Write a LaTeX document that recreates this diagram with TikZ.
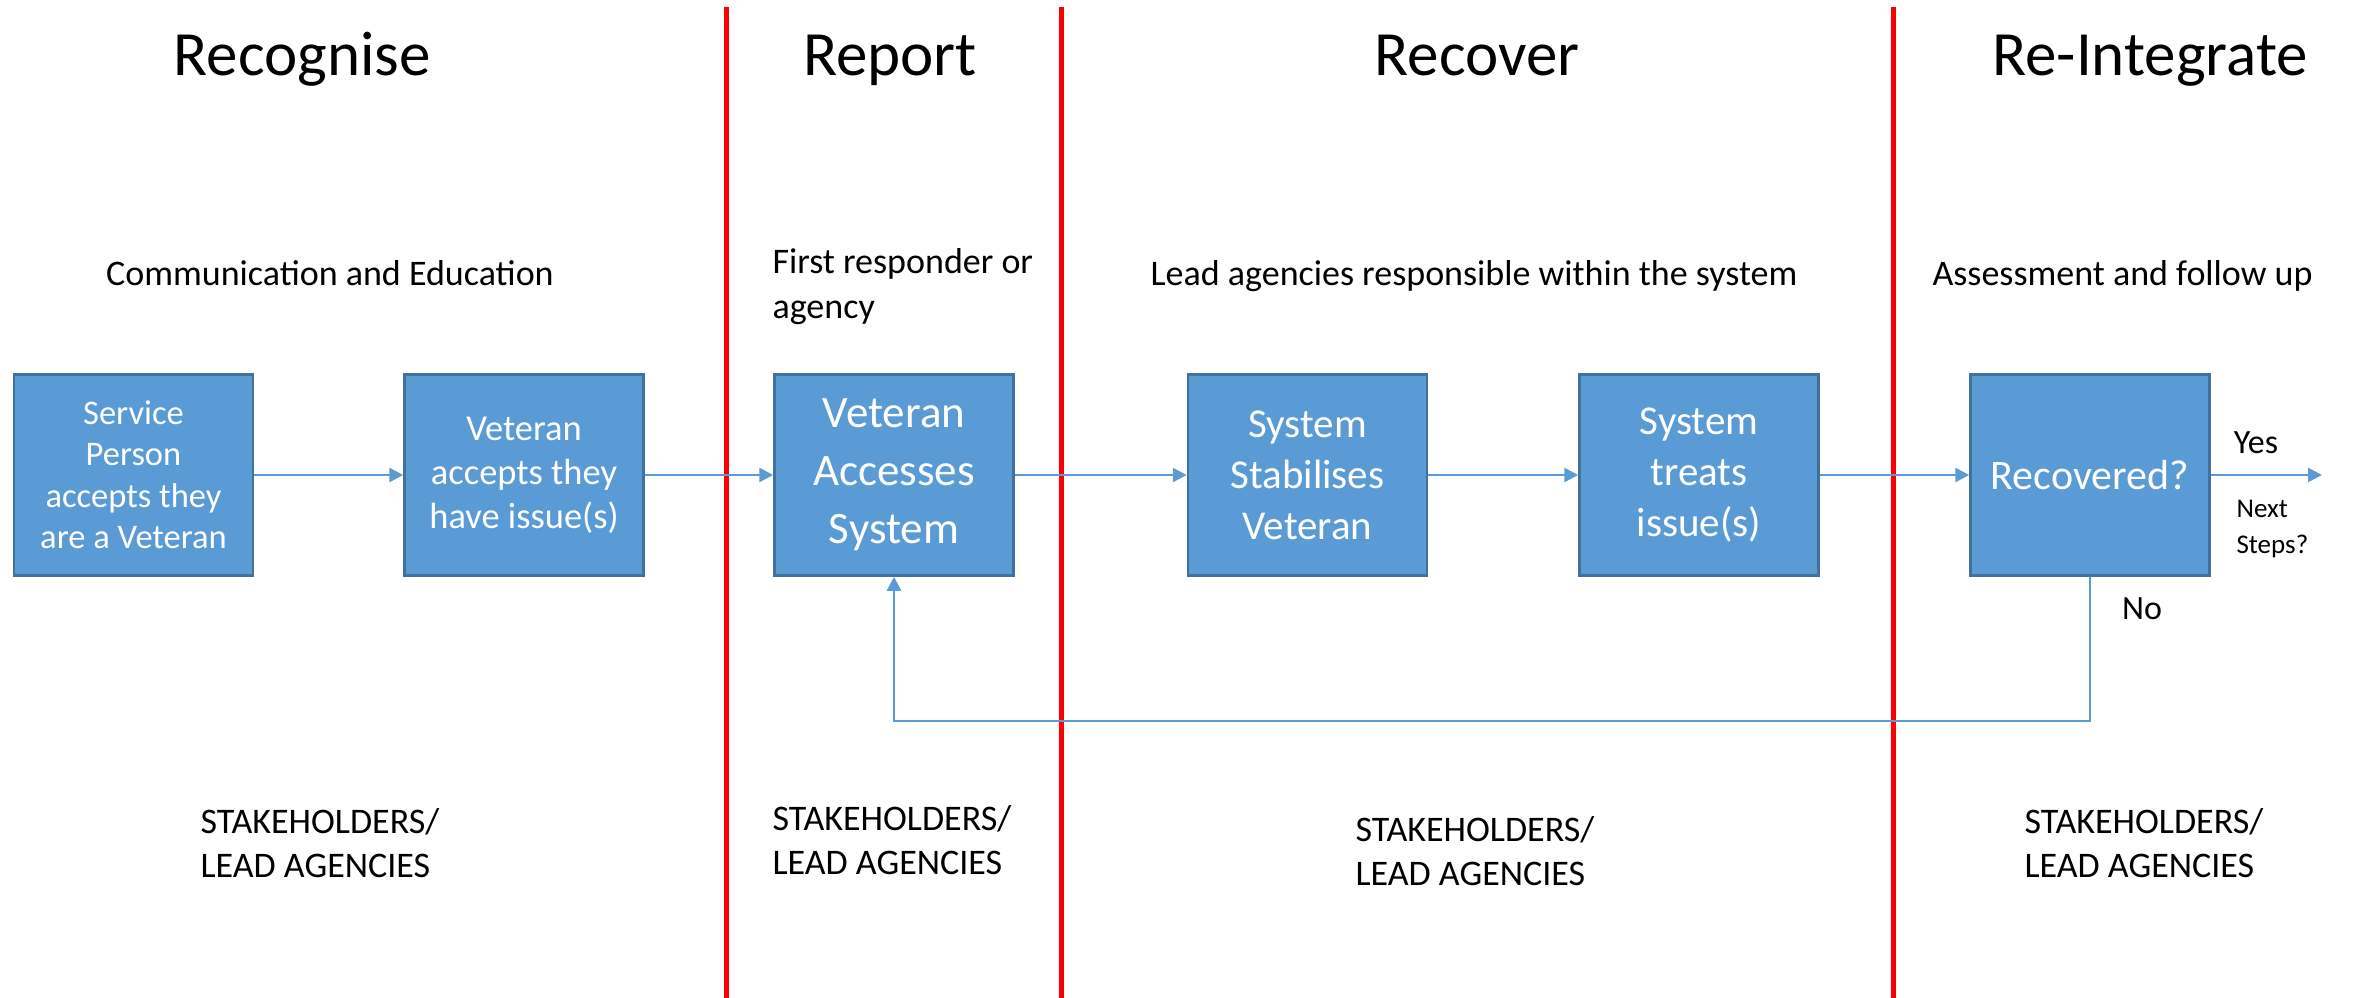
\documentclass[tikz,border=0pt]{standalone}
\usepackage{fontspec}
\setmainfont{Carlito}
\usetikzlibrary{arrows.meta}
\definecolor{boxfill}{HTML}{5B9BD5}
\definecolor{boxedge}{HTML}{41719C}
\definecolor{linkc}{HTML}{5B9BD5}
\begin{document}
\begin{tikzpicture}[x=1pt,y=-1pt,
  stepbox/.style={draw=boxedge, line width=2.5pt, fill=boxfill, minimum width=239pt, minimum height=201pt, inner sep=0pt, text=white, align=center},
  link/.style={draw=linkc, line width=2.5pt, -{Triangle[length=14pt,width=14pt]}},
  phase/.style={anchor=base, font=\fontsize{63}{76}\selectfont},
  sub/.style={font=\fontsize{36}{45}\selectfont},
  holders/.style={anchor=base west, align=left, font=\fontsize{36}{44}\selectfont},
  divider/.style={draw=red, line width=5pt}]
\useasboundingbox (0,0) rectangle (2356,998);

% dividers
\draw[divider] (726,7) -- (726,998);
\draw[divider] (1061,7) -- (1061,998);
\draw[divider] (1893,7) -- (1893,998);

% phase titles
\node[phase] (t1) at (302,76) {Recognise};
\node[phase] (t2) at (890,76) {Report};
\node[phase] (t3) at (1477,76) {Recover};
\node[phase] (t4) at (2150,76) {Re-Integrate};

% subtitles (base of multi-line nodes = last line)
\node[sub, anchor=base] (s1) at (330,285) {Communication and Education};
\node[sub, anchor=base west, align=left] (s2) at (769,318) {First responder or\\agency};
\node[sub, anchor=base] (s3) at (1474,285) {Lead agencies responsible within the system};
\node[sub, anchor=base west] (s4) at (1929,285) {Assessment and follow up};

% boxes
\node[stepbox, font=\fontsize{34.5}{41.5}\selectfont] (b1) at (133.5,475) {Service\\Person\\accepts they\\are a Veteran};
\node[stepbox, font=\fontsize{36.5}{44}\selectfont] (b2) at (524,475) {Veteran\\accepts they\\have issue(s)};
\node[stepbox, font=\fontsize{45}{58}\selectfont] (b3) at (894,475) {Veteran\\Accesses\\System};
\node[stepbox, font=\fontsize{41}{51}\selectfont] (b4) at (1307.5,475) {System\\Stabilises\\Veteran};
\node[stepbox, font=\fontsize{41}{51}\selectfont] (b5) at (1699,475) {System\\treats\\issue(s)};
\node[stepbox, font=\fontsize{42}{50}\selectfont] (b6) at (2090,475) {Recovered?};

% connectors
\draw[link] (b1.east) -- (b2.west);
\draw[link] (b2.east) -- (b3.west);
\draw[link] (b3.east) -- (b4.west);
\draw[link] (b4.east) -- (b5.west);
\draw[link] (b5.east) -- (b6.west);
\coordinate (out) at (2322,475);
\draw[link] (b6.east) -- (out);
\coordinate (fb) at (0,721);
\draw[link] (b6.south) -- (b6.south |- fb) -- (b3.south |- fb) -- (b3.south);

% decision labels
\node[anchor=base, font=\fontsize{34}{40}\selectfont] (yes) at (2256,453) {Yes};
\node[anchor=base west, align=left, font=\fontsize{27}{36}\selectfont] (next) at (2233,553) {Next\\Steps?};
\node[anchor=base, font=\fontsize{34}{40}\selectfont] (no) at (2142,619) {No};

% stakeholders
\node[holders] (k1) at (197,877) {STAKEHOLDERS/\\LEAD AGENCIES};
\node[holders] (k2) at (769,874) {STAKEHOLDERS/\\LEAD AGENCIES};
\node[holders] (k3) at (1352,885) {STAKEHOLDERS/\\LEAD AGENCIES};
\node[holders] (k4) at (2021,877) {STAKEHOLDERS/\\LEAD AGENCIES};
\end{tikzpicture}
\end{document}
